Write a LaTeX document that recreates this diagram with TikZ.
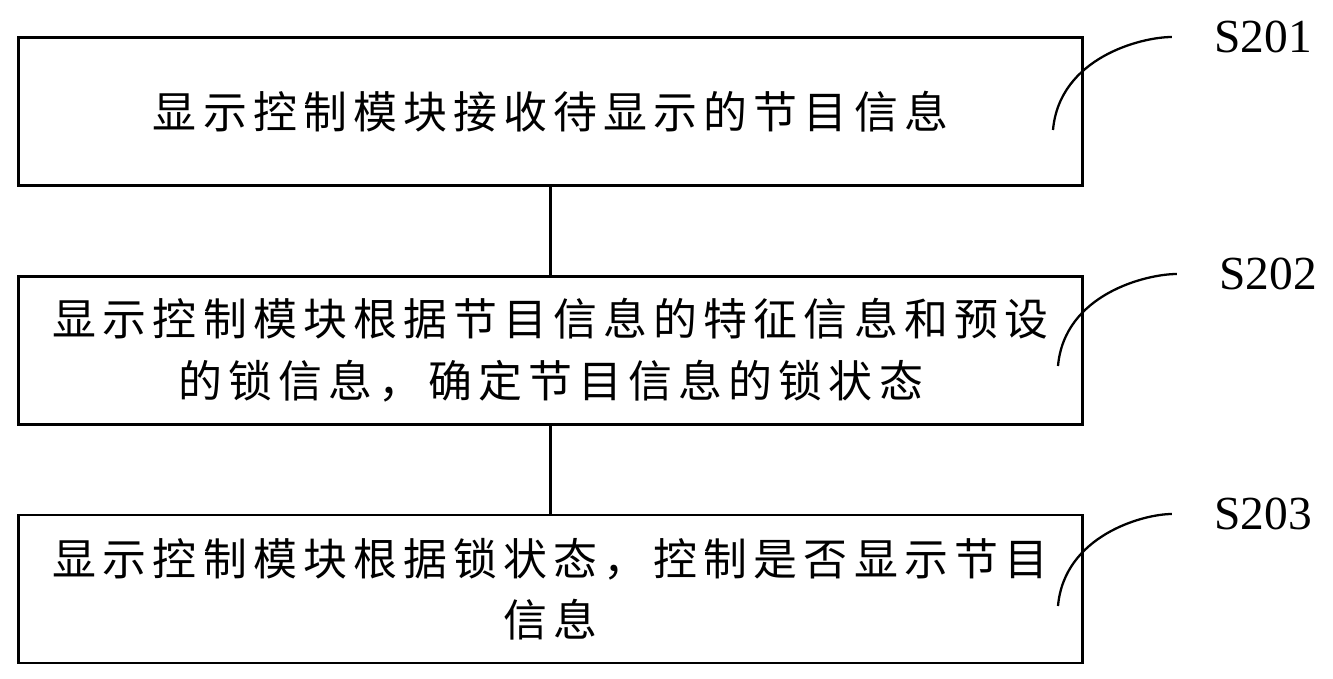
\documentclass[tikz,border=0pt]{standalone}
\usepackage{fontspec}
\newfontfamily\cjk[LetterSpace=14]{Noto Sans CJK SC}
\newfontfamily\tagfont{Liberation Serif}
\usetikzlibrary{positioning}

\begin{document}
\begin{tikzpicture}[x=0.02cm, y=-0.02cm, node distance=1.76cm]
    \tikzstyle{box} = [rectangle, draw, line width=1.6pt, minimum width=21.3cm, minimum height=2.96cm, align=center, inner sep=0pt, font=\cjk\fontsize{25}{35}\selectfont]
    \tikzstyle{link} = [line width=1.2pt]
    \tikzstyle{steptag} = [inner sep=0pt, font=\tagfont\fontsize{27}{30}\selectfont]
    \tikzstyle{tagline} = [line width=1.3pt, shorten >=0.84cm]

    \useasboundingbox (0,0) rectangle (1333,679);

    \node [box] (receive) at (550.5,111.5) {显示控制模块接收待显示的节目信息};
    \node [box, below=of receive] (decide) {显示控制模块根据节目信息的特征信息和预设\\的锁信息，确定节目信息的锁状态};
    \node [box, below=of decide] (show) {显示控制模块根据锁状态，控制是否显示节目\\信息};

    \draw [link] (receive) -- (decide);
    \draw [link] (decide) -- (show);

    % step labels
    \node [steptag] (s201) at (1263,37) {S201};
    \node [steptag] (s202) at (1268,274) {S202};
    \node [steptag] (s203) at (1263,514) {S203};

    \coordinate (t201) at (1053,130);
    \coordinate (t202) at (1058,366);
    \coordinate (t203) at (1058,606);

    \draw [tagline] (t201) to [out=85, in=180] (s201.west);
    \draw [tagline] (t202) to [out=85, in=180] (s202.west);
    \draw [tagline] (t203) to [out=85, in=180] (s203.west);
\end{tikzpicture}
\end{document}
